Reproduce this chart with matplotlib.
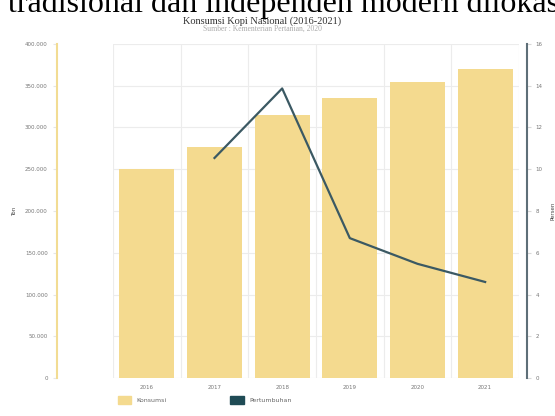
import matplotlib.pyplot as plt
from matplotlib.patches import Patch
from matplotlib.ticker import FuncFormatter

# data
tahun = ['2016', '2017', '2018', '2019', '2020', '2021']
konsumsi = [249824, 276167, 314460, 335520, 353885, 370160]
tahun_tumbuh = ['2017', '2018', '2019', '2020', '2021']
pertumbuhan = [10.54, 13.87, 6.70, 5.47, 4.60]

bar_col = '#F4DA8F'
line_col = '#3B5963'

fig = plt.figure(figsize=(5.55, 4.16), dpi=100)
ax = fig.add_axes([0.2036, 0.0913, 0.7315, 0.803])
ax2 = ax.twinx()

x = list(range(len(tahun)))
ax.bar(x, konsumsi, width=0.81, color=bar_col, zorder=2)
ax.set_xlim(-0.5, len(tahun) - 0.5)
ax.set_ylim(0, 400000)
ax.set_yticks(range(0, 400001, 50000))
ax.yaxis.set_major_formatter(FuncFormatter(lambda v, p: f'{int(v):,}'.replace(',', '.')))
ax.set_xticks(x)
ax.set_xticklabels(tahun)
ax.set_xticks([i - 0.5 for i in range(len(tahun) + 1)], minor=True)
ax.grid(True, axis='y', color='#ececec', linewidth=0.8, zorder=0)
ax.grid(True, axis='x', which='minor', color='#ececec', linewidth=0.8, zorder=0)
ax.set_axisbelow(True)
ax.tick_params(axis='x', which='both', length=0, labelsize=4, colors='#777777', pad=5)
ax.tick_params(axis='y', length=3, color='#e6e6e6', labelsize=4, labelcolor='#777777', pad=4)

xl = [tahun.index(t) for t in tahun_tumbuh]
ax2.plot(xl, pertumbuhan, color=line_col, linewidth=1.6, zorder=3)
ax2.set_ylim(0, 16)
ax2.set_yticks(range(0, 17, 2))
ax2.tick_params(axis='y', length=3, color='#d8d8d8', labelsize=4, labelcolor='#777777', pad=3)

for a in (ax, ax2):
    a.spines['top'].set_visible(False)
    a.spines['bottom'].set_visible(False)
ax.spines['right'].set_visible(False)
ax2.spines['left'].set_visible(False)
ax.spines['left'].set_position(('outward', 40))
ax.spines['left'].set_color('#F2DC93')
ax.spines['left'].set_linewidth(1.5)
ax2.spines['right'].set_position(('outward', 6))
ax2.spines['right'].set_color('#5E6F78')
ax2.spines['right'].set_linewidth(1.5)

ax.set_ylabel('Ton', fontsize=4, color='#444444', labelpad=6)
ax2.set_ylabel('Persen', fontsize=4, color='#444444', labelpad=6)

# teks dokumen yang terpotong di atas
fig.text(8 / 555, 1.0 - 12 / 416, 'tradisional dan independen modern dilokasi', ha='left',
         va='baseline', fontsize=23, family='Liberation Serif', color='black')

fig.text(0.472, 1 - 21 / 416, 'Konsumsi Kopi Nasional (2016-2021)', ha='center', va='center',
         fontsize=7.5, family='Liberation Serif', color='#333333')
fig.text(0.472, 1 - 29 / 416, 'Sumber : Kementerian Pertanian, 2020', ha='center', va='center',
         fontsize=5.5, family='Liberation Serif', color='#aaaaaa')

handles = [Patch(color=bar_col, label='Konsumsi'), Patch(color='#1F4B55', label='Pertumbuhan')]
fig.legend(handles=handles, loc='center left', bbox_to_anchor=(112 / 555, 1 - 400 / 416),
           ncol=2, frameon=False, fontsize=4.5, handlelength=2.2, handleheight=1.5,
           columnspacing=10.2, labelcolor='#666666')

fig.savefig('out.png', dpi=100)
